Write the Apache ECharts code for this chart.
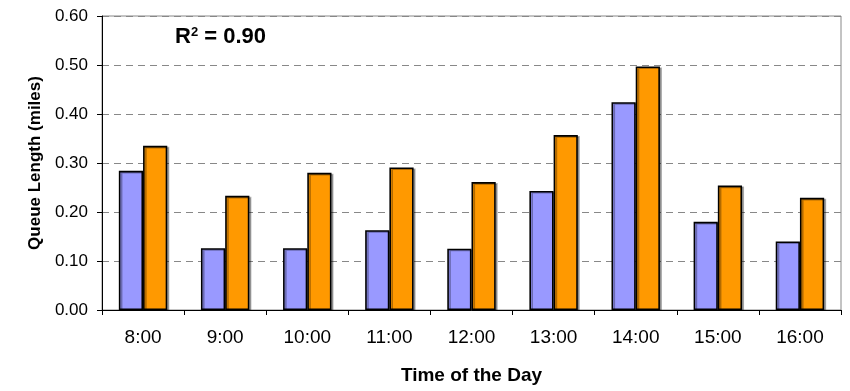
<!DOCTYPE html>
<html>
<head>
<meta charset="utf-8">
<script src="https://cdn.jsdelivr.net/npm/echarts@6/dist/echarts.min.js"></script>
<style>html,body{margin:0;padding:0;background:#fff}#c{width:850px;height:391px}</style>
</head>
<body>
<div id="c"></div>
<script>
var categories = ['8:00','9:00','10:00','11:00','12:00','13:00','14:00','15:00','16:00'];
var seriesA = [0.284,0.126,0.126,0.163,0.125,0.243,0.424,0.180,0.140];
var seriesB = [0.335,0.233,0.280,0.291,0.261,0.357,0.497,0.254,0.229];
var yTicks = {min:0, max:0.6, interval:0.1};
var fontFam = '"Liberation Sans", Arial, sans-serif';

var chart = echarts.init(document.getElementById('c'), null, {renderer:'canvas'});
var barStyle = function(c){return {color:c, borderColor:'#000', borderWidth:1.6, shadowColor:'rgba(0,0,0,0.3)', shadowOffsetX:2, shadowOffsetY:1, shadowBlur:0};};
chart.setOption({
  backgroundColor:'#fff',
  animation:false,
  grid:{left:102, right:9, top:16, bottom:81, show:true, borderColor:'#888', borderWidth:1, backgroundColor:'transparent'},
  xAxis:{
    type:'category', data:categories,
    axisLine:{show:true, lineStyle:{color:'#000', width:1}},
    axisTick:{show:true, alignWithLabel:false, length:5, lineStyle:{color:'#000'}},
    axisLabel:{color:'#000', fontSize:19, fontFamily:fontFam, margin:18},
    name:'Time of the Day', nameLocation:'middle', nameGap:56,
    nameTextStyle:{color:'#000', fontSize:19, fontWeight:'bold', fontFamily:fontFam}
  },
  yAxis:{
    type:'value', min:yTicks.min, max:yTicks.max, interval:yTicks.interval,
    axisLine:{show:true, lineStyle:{color:'#000', width:1}},
    axisTick:{show:true, inside:false, length:5, lineStyle:{color:'#000'}},
    axisLabel:{color:'#000', fontSize:17, fontFamily:fontFam, margin:14, formatter:function(v){return v.toFixed(2);}},
    splitLine:{show:true, lineStyle:{color:'#888', type:[7,5], width:1}},
    name:'Queue Length (miles)', nameLocation:'middle', nameGap:58,
    nameTextStyle:{color:'#000', fontSize:17, fontWeight:'bold', fontFamily:fontFam}
  },
  series:[
    {type:'bar', data:seriesA, barGap:'0%', barCategoryGap:'41%', itemStyle:barStyle('#9999FF')},
    {type:'bar', data:seriesB, barGap:'0%', barCategoryGap:'41%', itemStyle:barStyle('#FF9900')}
  ],
  graphic:[{
    type:'text', left:175, top:26,
    style:{
      text:'R{sup|2} = 0.90',
      rich:{sup:{fontSize:13, fontWeight:'bold', fontFamily:fontFam, verticalAlign:'top', padding:[0,0,9,0], fill:'#000'}},
      fontSize:22, fontWeight:'bold', fontFamily:fontFam, fill:'#000'
    }
  }]
});
</script>
</body>
</html>
